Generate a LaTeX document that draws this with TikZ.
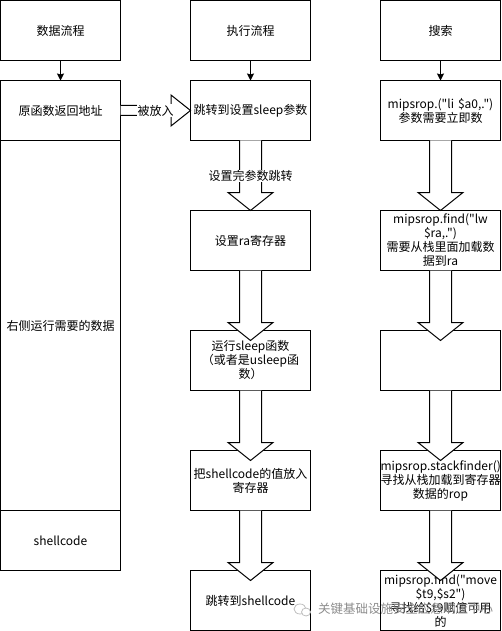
\documentclass[tikz,border=0pt]{standalone}
\usepackage{fontspec}
\newfontfamily\cjkmain{Noto Sans CJK SC}
\usetikzlibrary{arrows.meta}
\tikzset{
  x=1pt,y=-1pt,
  box/.style={draw=black,line width=1pt,outer sep=0pt,minimum width=120pt,inner sep=0pt,align=center,text width=120pt,font=\cjkmain\fontsize{12pt}{14pt}\selectfont,anchor=north west},
  thin arrow/.style={draw=black,line width=1pt,-{Stealth[length=7pt,width=7pt,inset=1pt]}},
  blockarrow/.style={draw=black,line width=1pt,fill=white,line join=miter},
  lab/.style={fill=white,inner sep=0.5pt,font=\cjkmain\fontsize{12pt}{14pt}\selectfont},
  wm/.style={text=black!45,inner sep=0pt,font=\cjkmain\fontsize{12.5pt}{14pt}\selectfont},
  wmicon/.style={draw=black!25,line width=0.8pt,fill=white}
}
\newcommand{\bdown}[2]{%
  \draw[blockarrow] (#2-11,#1) -- (#2-11,#1+52) -- (#2-22.5,#1+52) -- (#2,#1+70) -- (#2+22.5,#1+52) -- (#2+11,#1+52) -- (#2+11,#1);
}
\begin{document}
\begin{tikzpicture}
\useasboundingbox (0,0) rectangle (501,631);
% column 1
\node[box,minimum height=60pt] (a1) at (0.5,0.5) {数据流程};
\node[box,minimum height=60pt] (a2) at (0.5,80.5) {原函数返回地址};
\node[box,minimum height=370pt] (a3) at (0.5,140.5) {右侧运行需要的数据};
\node[box,minimum height=60pt] (a4) at (0.5,510.5) {shellcode};
% column 2
\node[box,minimum height=60pt] (b1) at (190.5,0.5) {执行流程};
\node[box,minimum height=60pt] (b2) at (190.5,80.5) {跳转到设置sleep参数};
\node[box,minimum height=60pt] (b3) at (190.5,210.5) {设置ra寄存器};
\node[box,minimum height=60pt] (b4) at (190.5,330.5) {运行sleep函数\\（或者是usleep函\\数）};
\node[box,minimum height=60pt] (b5) at (190.5,450.5) {把shellcode的值放入\\寄存器};
\node[box,minimum height=60pt] (b6) at (190.5,570.5) {跳转到shellcode};
% column 3
\node[box,minimum height=60pt] (c1) at (380.5,0.5) {搜索};
\node[box,minimum height=60pt] (c2) at (380.5,80.5) {mipsrop.("li \$a0,.")\\参数需要立即数};
\node[box,minimum height=60pt] (c3) at (380.5,210.5) {mipsrop.find("lw\\\$ra,.")\\需要从栈里面加载数\\据到ra};
\node[box,minimum height=60pt] (c4) at (380.5,330.5) {};
\node[box,minimum height=60pt] (c5) at (380.5,450.5) {mipsrop.stackfinder()\\寻找从栈加载到寄存器\\数据的rop};
\node[box,minimum height=60pt] (c6) at (380.5,570.5) {mipsrop.find("move\\\$t9,\$s2")\\寻找给\$t9赋值可用\\的};
% thin arrows
\draw[thin arrow] (a1) -- (a2);
\draw[thin arrow] (b1) -- (b2);
\draw[thin arrow] (c1) -- (c2);
% block arrows
\foreach \y/\x in {140.5/250.5,270.5/250.5,390.5/250.5,510.5/250.5,140.5/440.5,270.5/440.5,390.5/440.5,510.5/440.5}{\bdown{\y}{\x}}
% horizontal block arrow
\draw[blockarrow] (a2.east |- 0,105.5) -- (171,105.5) -- (171,95) -- (190.5,110.5) -- (171,126) -- (171,115.5) -- (a2.east |- 0,115.5);
\node[lab] (l1) at (155.5,110.5) {被放入};
\node[lab] (l2) at (250.5,176) {设置完参数跳转};
% watermark
\draw[wmicon] (300,609) ellipse (6pt and 5pt);
\draw[wmicon] (306,612) ellipse (4.5pt and 4pt);
\node[wm,anchor=west] (w) at (318,609) {关键基础设施安全应急响应中心};
\end{tikzpicture}
\end{document}
